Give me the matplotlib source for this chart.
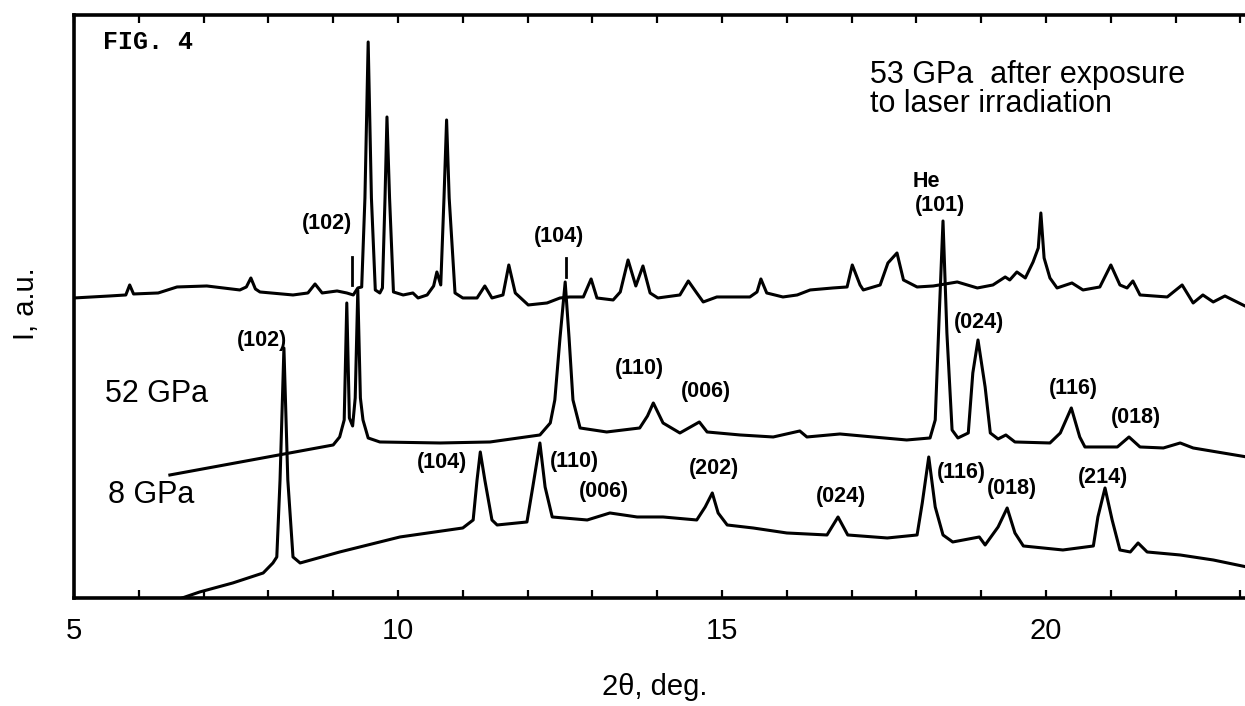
import matplotlib.pyplot as plt
from matplotlib.ticker import MultipleLocator

plt.rcParams['font.family'] = ['Liberation Sans', 'DejaVu Sans']

# 53 GPa, after laser irradiation (top trace)
tt_top = [5.00, 5.55, 5.80, 5.86, 5.92, 6.30, 6.59, 7.05, 7.56, 7.66, 7.73, 7.80,
          7.87, 8.38, 8.61, 8.72, 8.83, 9.06, 9.21, 9.31, 9.38, 9.44, 9.49, 9.54,
          9.59, 9.65, 9.72, 9.76, 9.80, 9.83, 9.87, 9.93, 10.08, 10.23, 10.31, 10.45,
          10.55, 10.60, 10.66, 10.71, 10.75, 10.79, 10.88, 11.00, 11.22, 11.34, 11.45,
          11.62, 11.71, 11.81, 12.01, 12.30, 12.50, 12.65, 12.86, 12.98, 13.07, 13.32,
          13.43, 13.55, 13.67, 13.78, 13.89, 14.01, 14.35, 14.48, 14.61, 14.71, 14.92,
          15.43, 15.54, 15.60, 15.69, 15.94, 16.16, 16.36, 16.71, 16.93, 17.01, 17.13,
          17.18, 17.44, 17.56, 17.70, 17.80, 18.01, 18.26, 18.63, 18.94, 19.18, 19.37,
          19.44, 19.55, 19.68, 19.80, 19.88, 19.92, 19.97, 20.06, 20.17, 20.40, 20.57,
          20.83, 21.00, 21.14, 21.25, 21.34, 21.45, 21.87, 22.10, 22.27, 22.42, 22.58,
          22.76, 23.10]
i_top = [300, 302, 303, 313, 304, 305, 311, 312, 308, 311, 320, 309,
         306, 303, 305, 314, 305, 307, 305, 303, 310, 311, 400, 556,
         400, 308, 305, 310, 400, 481, 400, 306, 303, 305, 300, 303,
         312, 326, 313, 400, 478, 400, 305, 300, 300, 312, 300,
         303, 333, 305, 293, 295, 300, 301, 301, 319, 300, 298,
         306, 338, 312, 332, 305, 300, 303, 317, 305, 296, 301,
         301, 306, 319, 305, 301, 303, 308, 310, 311, 333, 313,
         308, 313, 335, 345, 318, 311, 312, 316, 310, 313, 321,
         318, 326, 320, 336, 350, 385, 340, 320, 310, 315, 308,
         311, 333, 313, 310, 317, 303, 301, 313, 295, 303, 296,
         302, 291]

# 52 GPa (middle trace)
tt_mid = [6.48, 9.00, 9.10, 9.17, 9.21, 9.25, 9.30, 9.34, 9.38, 9.42, 9.46, 9.54,
          9.72, 10.65, 11.42, 12.19, 12.35, 12.42, 12.50, 12.58, 12.64, 12.70, 12.81,
          13.22, 13.73, 13.85, 13.94, 14.09, 14.35, 14.65, 14.77, 15.28, 15.79, 16.20,
          16.31, 16.82, 17.33, 17.85, 18.21, 18.29, 18.35, 18.41, 18.47, 18.55, 18.64,
          18.80, 18.87, 18.95, 19.06, 19.14, 19.26, 19.38, 19.52, 20.06, 20.22, 20.39,
          20.52, 20.60, 21.10, 21.28, 21.45, 21.81, 22.07, 22.27, 23.10]
i_mid = [123, 153, 161, 178, 295, 180, 172, 200, 308, 200, 178, 160,
         156, 155, 156, 163, 175, 198, 260, 316, 260, 198, 170,
         166, 170, 182, 195, 175, 165, 176, 166, 163, 161, 167,
         161, 164, 161, 158, 160, 178, 280, 377, 265, 168, 160,
         165, 225, 258, 211, 165, 159, 163, 156, 155, 165, 190,
         161, 151, 151, 161, 151, 150, 155, 150, 141]

# 8 GPa (bottom trace)
tt_low = [6.67, 6.94, 7.45, 7.92, 8.07, 8.13, 8.18, 8.24, 8.30, 8.38, 8.49, 9.10,
          10.03, 11.00, 11.16, 11.22, 11.27, 11.34, 11.45, 11.53, 11.99, 12.08, 12.19,
          12.27, 12.38, 12.92, 13.27, 13.69, 14.09, 14.61, 14.74, 14.85, 14.94, 15.08,
          15.48, 16.00, 16.62, 16.79, 16.94, 17.55, 18.01, 18.09, 18.19, 18.29, 18.41,
          18.56, 18.97, 19.06, 19.26, 19.40, 19.52, 19.65, 20.26, 20.73, 20.80, 20.91,
          21.02, 21.14, 21.30, 21.42, 21.56, 22.07, 22.58, 23.10]
i_low = [0, 6, 15, 25, 35, 41, 118, 250, 118, 41, 35, 46,
         61, 70, 78, 118, 146, 118, 78, 73, 76, 111, 155,
         111, 81, 78, 85, 81, 81, 78, 91, 105, 85, 73,
         70, 65, 63, 81, 63, 60, 63, 95, 141, 91, 63,
         56, 61, 53, 71, 90, 65, 52, 48, 52, 81, 110,
         78, 48, 46, 55, 46, 43, 38, 31]

# peak labels: text, 2theta, height
hkl_top = [("(102)", 8.90, 374), ("(104)", 12.48, 361), ("(101)", 18.36, 392)]
hkl_mid = [("(110)", 13.73, 229), ("(006)", 14.75, 206), ("(024)", 18.97, 275),
           ("(116)", 20.42, 209), ("(018)", 21.39, 180)]
hkl_low = [("(102)", 7.90, 257), ("(104)", 10.68, 135), ("(110)", 12.73, 136),
           ("(006)", 13.18, 106), ("(202)", 14.88, 129), ("(024)", 16.84, 101),
           ("(116)", 18.69, 125), ("(018)", 19.48, 109), ("(214)", 20.88, 120)]
# small marker bars above the top trace: 2theta, from, to
marks = [(9.29, 313, 341), (12.59, 321, 340)]

fig = plt.figure(figsize=(12.45, 7.06), dpi=100)
ax = fig.add_axes([0.0594, 0.153, 0.9406, 0.8258])

for tt, ii in [(tt_top, i_top), (tt_mid, i_mid), (tt_low, i_low)]:
    ax.plot(tt, ii, color='black', lw=2.2, solid_joinstyle='round')

for tt, lo, hi in marks:
    ax.plot([tt, tt], [lo, hi], color='black', lw=2.0)

for txt, tt, ii in hkl_top + hkl_mid + hkl_low:
    ax.text(tt, ii, txt, fontsize=15.5, fontweight='bold', ha='center', va='center')
ax.text(18.16, 416, "He", fontsize=15.5, fontweight='bold', ha='center', va='center')

ax.text(17.28, 523, "53 GPa  after exposure", fontsize=22, ha='left', va='center')
ax.text(17.28, 494, "to laser irradiation", fontsize=22, ha='left', va='center')
ax.text(5.48, 204, "52 GPa", fontsize=22, ha='left', va='center')
ax.text(5.52, 103, "8 GPa", fontsize=22, ha='left', va='center')
ax.text(5.45, 556, "FIG. 4", fontsize=18, family='Liberation Mono',
        fontweight='bold', ha='left', va='center')

ax.set_xlim(5, 23.07)
ax.set_ylim(0, 583)

ax.xaxis.set_major_locator(MultipleLocator(5))
ax.xaxis.set_minor_locator(MultipleLocator(1))
ax.tick_params(axis='x', which='both', direction='in', top=True, length=6,
               width=1.6, labelsize=21, pad=14)
ax.set_yticks([])

for side in ['left', 'bottom', 'top']:
    ax.spines[side].set_linewidth(2.6)
ax.spines['right'].set_visible(False)

ax.set_xlabel("2θ, deg.", fontsize=21, va='center')
ax.xaxis.set_label_coords(0.496, -0.153)
ax.set_ylabel("I, a.u.", fontsize=21, va='center')
ax.yaxis.set_label_coords(-0.041, 0.504)

fig.savefig("out.png", dpi=100)
